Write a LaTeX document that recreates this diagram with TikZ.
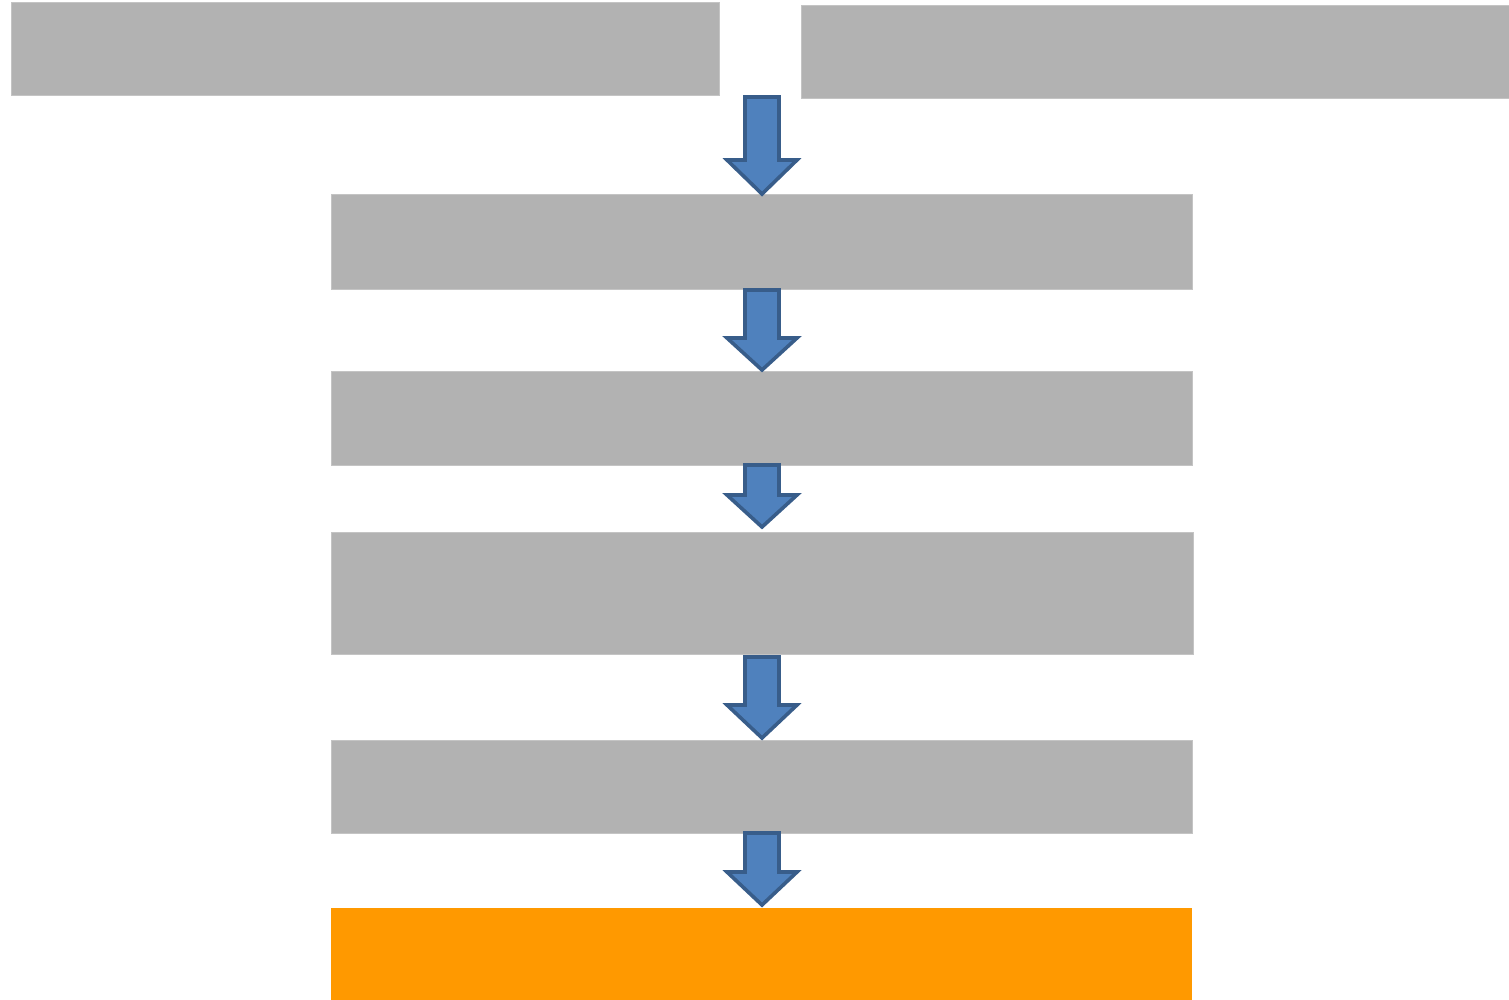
\documentclass[tikz,border=0pt]{standalone}
\definecolor{boxgray}{HTML}{B2B2B2}
\definecolor{boxedge}{HTML}{C4C4C4}
\definecolor{boxorange}{HTML}{FF9900}
\definecolor{arrfill}{HTML}{4F81BD}
\definecolor{arredge}{HTML}{385D8A}
\newcommand{\blockarr}[3]{%
  \draw[barrow] (745,#1) -- (779,#1) -- (779,#2) -- (797,#2) -- (762,#3) -- (727,#2) -- (745,#2) -- cycle;}
\begin{document}
\begin{tikzpicture}[x=0.5pt,y=-0.5pt,
  gbox/.style={rectangle, fill=boxgray, draw=boxedge, line width=0.5pt, inner sep=0pt},
  obox/.style={rectangle, fill=boxorange, inner sep=0pt},
  barrow/.style={fill=arrfill, draw=arredge, line width=1.8pt, line join=miter}]
\useasboundingbox (0,0) rectangle (1509,1000);
\node[gbox, minimum width=354pt, minimum height=46.5pt] (tl) at (365,49.5) {};
\node[gbox, minimum width=354pt, minimum height=46.5pt] (tr) at (1155,52.5) {};
\node[gbox, minimum width=430.5pt, minimum height=47pt] (b1) at (761.5,242) {};
\node[gbox, minimum width=430.5pt, minimum height=47pt] (b2) at (761.5,418) {};
\node[gbox, minimum width=431pt, minimum height=61pt] (b3) at (762,593) {};
\node[gbox, minimum width=430.5pt, minimum height=46.5pt] (b4) at (761.5,786.5) {};
\node[obox, minimum width=430.5pt, minimum height=46pt] (b5) at (761.5,954) {};
\blockarr{97}{160}{194}
\blockarr{290}{338}{370}
\blockarr{465}{495}{527}
\blockarr{657}{705}{738}
\blockarr{833}{872}{905}
\end{tikzpicture}
\end{document}
